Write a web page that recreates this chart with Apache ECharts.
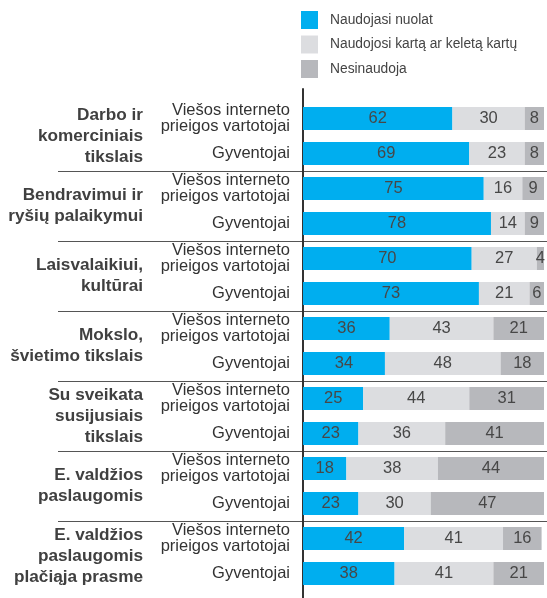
<!DOCTYPE html>
<html>
<head>
<meta charset="utf-8">
<script src="https://cdn.jsdelivr.net/npm/echarts@6/dist/echarts.min.js"></script>
<style>
  html, body { margin: 0; padding: 0; background: #fff; }
  #chart { width: 547px; height: 598px; }
</style>
</head>
<body>
<div id="chart"></div>
<script>
var groups = [
  'Darbo ir\nkomerciniais\ntikslais',
  'Bendravimui ir\nryšių palaikymui',
  'Laisvalaikiui,\nkultūrai',
  'Mokslo,\nšvietimo tikslais',
  'Su sveikata\nsusijusiais\ntikslais',
  'E. valdžios\npaslaugomis',
  'E. valdžios\npaslaugomis\nplačiąja prasme'
];
var rowNames = ['Viešos interneto\nprieigos vartotojai', 'Gyventojai'];
var seriesNames = ['Naudojasi nuolat', 'Naudojosi kartą ar keletą kartų', 'Nesinaudoja'];
var nuolat = [62, 69, 75, 78, 70, 73, 36, 34, 25, 23, 18, 23, 42, 38];
var karta = [30, 23, 16, 14, 27, 21, 43, 48, 44, 36, 38, 30, 41, 41];
var nesinaudoja = [8, 8, 9, 9, 4, 6, 21, 18, 31, 41, 44, 47, 16, 21];

(function() {
  var font = "'Liberation Sans', Arial, sans-serif";
  var colors = ['#00aeef', '#dcdde0', '#b7b8bc'];
  var gridTop = 101, gridBottom = 7;

  var rows = [];
  groups.forEach(function() {
    rowNames.forEach(function(r) { rows.push(r); });
  });

  var hiddenX = function(idx) {
    return { type: 'value', gridIndex: idx, show: false, min: 0, max: 1 };
  };

  function bar(name, data, color) {
    return {
      name: name,
      type: 'bar',
      stack: 'all',
      barWidth: 23,
      data: data,
      itemStyle: { color: color },
      label: {
        show: true,
        position: 'inside',
        color: '#474747',
        fontFamily: font,
        fontSize: 16.5
      }
    };
  }

  var chart = echarts.init(document.getElementById('chart'), null, { renderer: 'canvas' });
  chart.setOption({
    animation: false,
    color: colors,
    legend: {
      orient: 'vertical',
      left: 296,
      top: 6,
      itemWidth: 17,
      itemHeight: 18,
      itemGap: 6.5,
      icon: 'rect',
      data: seriesNames,
      textStyle: { color: '#444', fontFamily: font, fontSize: 13.8, lineHeight: 18, padding: [0, 0, 0, 7] }
    },
    grid: [
      { left: 303, right: 3, top: gridTop, bottom: gridBottom },
      { left: 58, right: 0, top: gridTop, bottom: gridBottom },
      { left: 151, width: 1, top: gridTop, bottom: gridBottom },
      { left: 303, width: 1, top: 89, bottom: 0 }
    ],
    xAxis: [
      { type: 'value', gridIndex: 0, min: 0, max: 100, show: false },
      hiddenX(1), hiddenX(2), hiddenX(3)
    ],
    yAxis: [
      {
        type: 'category', gridIndex: 0, data: rows, inverse: true,
        axisLine: { show: false }, axisTick: { show: false },
        axisLabel: {
          interval: 0, margin: 13, color: '#333', fontSize: 16.5, lineHeight: 16,
          fontFamily: font
        }
      },
      {
        // group separators: one line between every pair of groups
        type: 'value', gridIndex: 1, min: 0, max: groups.length, interval: 1, inverse: true,
        axisLine: { show: false }, axisTick: { show: false }, axisLabel: { show: false },
        splitLine: {
          show: true, showMinLine: false, showMaxLine: false,
          lineStyle: { color: '#555', width: 1.2 }
        }
      },
      {
        type: 'category', gridIndex: 2, data: groups, inverse: true,
        axisLine: { show: false }, axisTick: { show: false },
        axisLabel: {
          interval: 0, margin: 8, color: '#404040', fontSize: 17.2, lineHeight: 21,
          fontWeight: 'bold', fontFamily: font
        }
      },
      {
        type: 'value', gridIndex: 3, min: 0, max: 1,
        axisLine: { show: true, lineStyle: { color: '#333', width: 2 } },
        axisTick: { show: false }, axisLabel: { show: false }, splitLine: { show: false }
      }
    ],
    series: [
      bar(seriesNames[0], nuolat, colors[0]),
      bar(seriesNames[1], karta, colors[1]),
      bar(seriesNames[2], nesinaudoja, colors[2])
    ]
  });
})();
</script>
</body>
</html>
